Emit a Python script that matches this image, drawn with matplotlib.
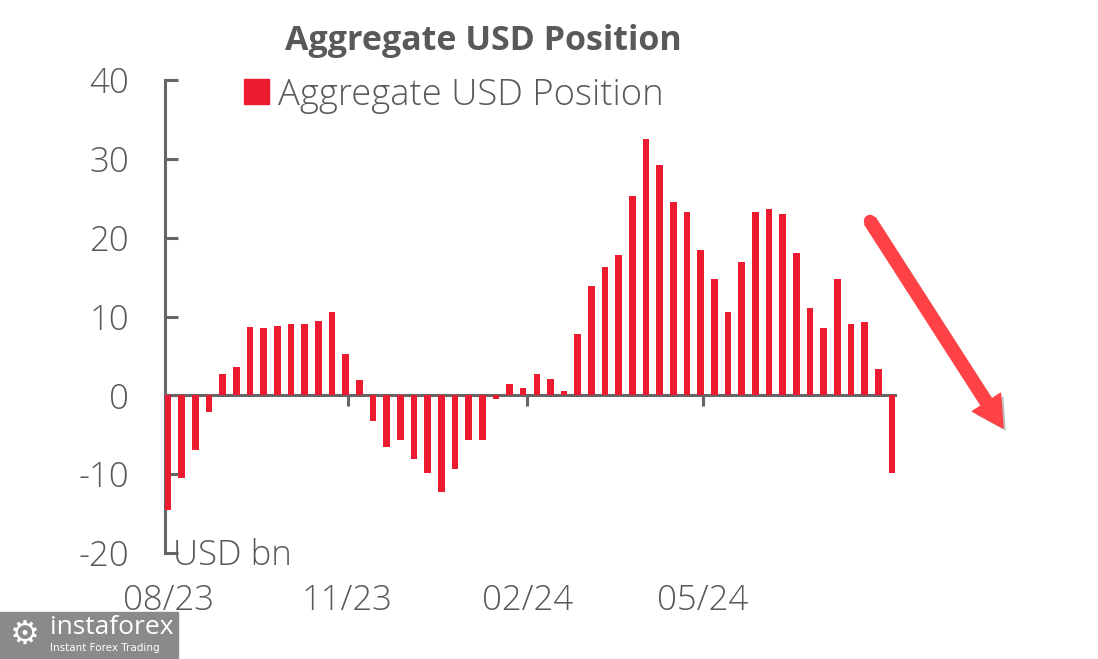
import numpy as np
import pandas as pd
import matplotlib
matplotlib.use("Agg")
import matplotlib.pyplot as plt
import matplotlib.patheffects as pe
from matplotlib.patches import Rectangle

# ---------------- data ----------------
series_name = "Aggregate USD Position"
values = [-14.5, -10.5, -6.9, -2.1, 2.7, 3.6, 8.7, 8.5, 8.8, 9.1,
          9.1, 9.4, 10.6, 5.2, 1.9, -3.2, -6.6, -5.7, -8.1, -9.9,
          -12.3, -9.3, -5.7, -5.7, -0.5, 1.5, 0.9, 2.7, 2.1, 0.6,
          7.8, 13.9, 16.3, 17.8, 25.3, 32.5, 29.2, 24.5, 23.2, 18.4,
          14.8, 10.6, 16.9, 23.2, 23.6, 23.0, 18.1, 11.1, 8.5, 14.8,
          9.1, 9.3, 3.3, -9.9]
first_week = "2023-08-01"
tick_dates = ["2023-08-01", "2023-11-01", "2024-02-01", "2024-05-01"]
tick_labels = ["08/23", "11/23", "02/24", "05/24"]
y_ticks = [-20, -10, 0, 10, 20, 30, 40]
unit_label = "USD bn"

dates = pd.date_range(first_week, periods=len(values), freq="7D")

# ---------------- style ----------------
FONT = "Open Sans"
TXT = "#595959"
AX = "#666666"
RED = "#ED1B2F"
ARROW = "#FF4245"
W, H = 1098, 659
FS = 25

fig = plt.figure(figsize=(W / 100, H / 100), dpi=100)
ax = fig.add_axes([165 / W, 106 / H, 730 / W, 473 / H])

ax.bar(dates, values, width=3.4, color=RED, zorder=3, linewidth=0)

ax.set_ylim(-20, 40)
ax.set_xlim(dates[0] - pd.Timedelta(days=1.6), dates[-1] + pd.Timedelta(days=1.6))

for s in ["top", "right"]:
    ax.spines[s].set_visible(False)
ax.spines["left"].set_color(AX)
ax.spines["left"].set_linewidth(2.2)
ax.spines["left"].set_bounds(-20, 40)
ax.spines["bottom"].set_position(("data", 0))
ax.spines["bottom"].set_color(AX)
ax.spines["bottom"].set_linewidth(2.2)
ax.spines["bottom"].set_zorder(2)

ax.set_yticks(y_ticks)
ax.set_yticklabels([str(v) for v in y_ticks], fontsize=FS, color=TXT,
                   family=FONT, fontweight="light")
ax.tick_params(axis="y", direction="in", length=9, width=2.2, color=AX, pad=26)

ax.set_xticks(pd.to_datetime(tick_dates))
ax.set_xticklabels([])
ax.tick_params(axis="x", direction="out", length=8, width=2.2, color=AX)

xt = ax.get_xaxis_transform()
for d, lab in zip(pd.to_datetime(tick_dates), tick_labels):
    ax.text(d, -0.1, lab, transform=xt, ha="center", va="center",
            fontsize=FS, color=TXT, family=FONT, fontweight="light")

ax.text(dates[0] + pd.Timedelta(days=2.5), -20.3, unit_label, ha="left", va="center",
        fontsize=FS, color=TXT, family=FONT, fontweight="light")

# title and legend
fig.text(483 / W, 1 - 41 / H, series_name, ha="center", va="center",
         fontsize=24.5, fontweight="bold", color=TXT, family=FONT)
handle = Rectangle((0, 0), 1, 1, color=RED)
leg = fig.legend([handle], [series_name], loc="center left",
                 bbox_to_anchor=(244 / W, 1 - 95 / H), frameon=False,
                 prop={"family": FONT, "size": 26.2, "weight": "light"},
                 handlelength=0.68, handleheight=0.68, handletextpad=0.25,
                 borderpad=0, borderaxespad=0)
for t in leg.get_texts():
    t.set_color(TXT)

# arrow annotation
shadow = [pe.SimplePatchShadow(offset=(2, -2), shadow_rgbFace="#444444", alpha=0.35), pe.Normal()]
ax.annotate("", xy=(1003 / W, 1 - 428 / H), xytext=(870 / W, 1 - 221 / H),
            xycoords="figure fraction", textcoords="figure fraction",
            arrowprops=dict(arrowstyle="simple,head_length=2.2,head_width=2.4,tail_width=0.9",
                            mutation_scale=10, color=ARROW, shrinkA=0, shrinkB=0,
                            path_effects=shadow))
fig.add_artist(matplotlib.lines.Line2D([870 / W, 880 / W], [1 - 221 / H, 1 - 236.6 / H],
                                       transform=fig.transFigure, color=ARROW, lw=9.0,
                                       solid_capstyle="round", zorder=5))

# watermark logo
fig.patches.append(Rectangle((0, 0), 178 / W, 47 / H, transform=fig.transFigure,
                             color="#8a8a8a", zorder=0))
fig.text(25 / W, 1 - 634 / H, "\u2699", ha="center", va="center", fontsize=24,
         color="white", family="DejaVu Sans")
fig.text(50 / W, 1 - 627 / H, "instaforex", ha="left", va="center", fontsize=19,
         color="white", family=FONT)
fig.text(50 / W, 1 - 648 / H, "Instant Forex Trading", ha="left", va="center",
         fontsize=7.5, color="white", family="DejaVu Sans")

fig.savefig("out.png", dpi=100)
